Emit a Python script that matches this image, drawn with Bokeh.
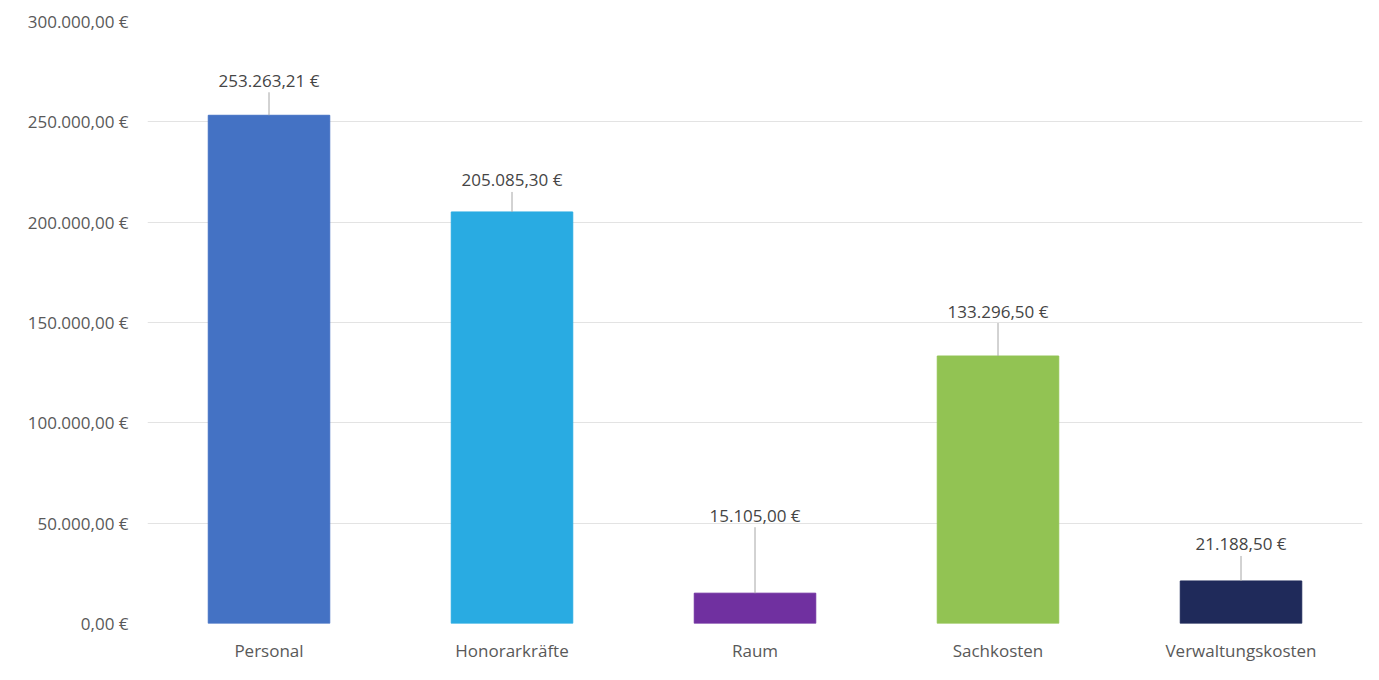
from bokeh.plotting import figure
from bokeh.models import ColumnDataSource, FixedTicker, CustomJSTickFormatter, Range1d
from bokeh.core.properties import value
from bokeh.embed import file_html
from bokeh.resources import INLINE

categories = ["Personal", "Honorarkräfte", "Raum", "Sachkosten", "Verwaltungskosten"]
amounts = [253263.21, 205085.30, 15105.00, 133296.50, 21188.50]
bar_colors = ["#4472C4", "#29ABE2", "#7030A0", "#92C353", "#1F2A5A"]
y_ticks = [0, 50000, 100000, 150000, 200000, 250000, 300000]
# label offsets above bar tops (pixels) - layout only
label_offsets_px = [35, 32, 78, 45, 37]

FRAME_H = 602
Y_MAX = 300000
per_px = Y_MAX / FRAME_H
FONT = "Open Sans"


def de_fmt(v):
    s = f"{v:,.2f}"
    s = s.replace(",", "X").replace(".", ",").replace("X", ".")
    return s + " €"


src = ColumnDataSource(dict(
    cat=categories,
    val=amounts,
    color=bar_colors,
    label=[de_fmt(v) for v in amounts],
    ly=[v + o * per_px for v, o in zip(amounts, label_offsets_px)],
    l0=[v for v in amounts],
    l1=[v + (o - 12) * per_px for v, o in zip(amounts, label_offsets_px)],
))

p = figure(x_range=categories, width=1371, height=672,
           output_backend="svg", toolbar_location=None,
           min_border_left=147, min_border_right=9,
           min_border_top=21, min_border_bottom=49)
p.y_range = Range1d(0, Y_MAX)
p.frame_height = FRAME_H
p.frame_width = 1215

p.vbar(x="cat", top="val", width=0.5, color="color", source=src)
p.segment(x0="cat", y0="l0", x1="cat", y1="l1", source=src,
          line_color="#a6a6a6", line_width=1)
p.text(x="cat", y="ly", text="label", source=src,
       text_align="center", text_baseline="middle",
       text_font=value(FONT), text_font_size="17px", text_color="#454545")

p.yaxis.ticker = FixedTicker(ticks=y_ticks)
p.yaxis.formatter = CustomJSTickFormatter(code="""
    const s = tick.toFixed(2);
    let [i, d] = s.split('.');
    i = i.replace(/\\B(?=(\\d{3})+(?!\\d))/g, '.');
    return i + ',' + d + ' €';
""")
for ax in (p.xaxis, p.yaxis):
    ax.axis_line_color = None
    ax.major_tick_line_color = None
    ax.minor_tick_line_color = None
    ax.major_label_text_font = FONT
    ax.major_label_text_font_size = "17px"
    ax.major_label_text_color = "#595959"
p.yaxis.major_label_standoff = 13
p.xaxis.major_label_standoff = 9

p.xgrid.grid_line_color = None
p.ygrid.grid_line_color = "#e3e3e3"
p.ygrid.grid_line_width = 1
p.outline_line_color = None
p.x_range.range_padding = 0

open("out.html", "w").write(file_html(p, INLINE))
